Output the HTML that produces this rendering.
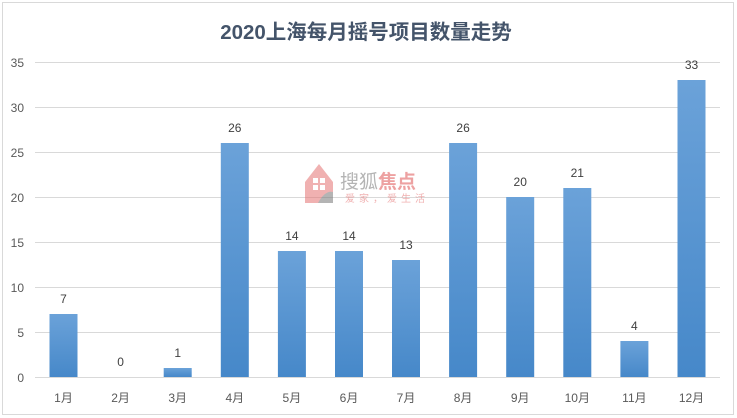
<!DOCTYPE html>
<html><head><meta charset="utf-8"><style>
html,body{margin:0;padding:0;background:#fff;}
svg{display:block;}
</style></head><body>
<svg width="737" height="418" viewBox="0 0 737 418" xmlns="http://www.w3.org/2000/svg">
<defs>
<linearGradient id="g" x1="0" y1="0" x2="0" y2="1">
<stop offset="0" stop-color="#6ba2d9"/>
<stop offset="1" stop-color="#4688c9"/>
</linearGradient>
</defs>
<rect x="0" y="0" width="737" height="418" fill="#fff"/>
<rect x="2.5" y="2.5" width="731" height="412" fill="#fff" stroke="#d9d9d9" stroke-width="1"/>
<g stroke="#d9d9d9" stroke-width="1">
<line x1="35" x2="720" y1="377.5" y2="377.5"/>
<line x1="35" x2="720" y1="332.5" y2="332.5"/>
<line x1="35" x2="720" y1="287.5" y2="287.5"/>
<line x1="35" x2="720" y1="242.5" y2="242.5"/>
<line x1="35" x2="720" y1="197.5" y2="197.5"/>
<line x1="35" x2="720" y1="152.5" y2="152.5"/>
<line x1="35" x2="720" y1="107.5" y2="107.5"/>
<line x1="35" x2="720" y1="62.5" y2="62.5"/>
</g>
<g font-family="Liberation Sans, sans-serif" font-size="12" fill="#595959" text-anchor="end">
<text x="24" y="382">0</text>
<text x="24" y="337">5</text>
<text x="24" y="292">10</text>
<text x="24" y="247">15</text>
<text x="24" y="202">20</text>
<text x="24" y="157">25</text>
<text x="24" y="112">30</text>
<text x="24" y="67">35</text>
</g>
<!-- watermark -->
<g opacity="0.55">
<path d="M305 182 L319 164 L333 182 L333 203 L305 203 Z" fill="#e57373"/>
<rect x="313" y="178" width="5" height="5" fill="#fff"/>
<rect x="320" y="178" width="5" height="5" fill="#fff"/>
<rect x="313" y="185" width="5" height="5" fill="#fff"/>
<rect x="320" y="185" width="5" height="5" fill="#fff"/>
<path d="M318 203 Q325 190 333 192 L333 203 Z" fill="#777"/>
<text x="340" y="188" font-family="Liberation Sans, 'Noto Sans CJK SC', sans-serif" font-size="19" fill="#777">搜狐<tspan fill="#e05555" font-weight="bold">焦点</tspan></text>
<text x="345" y="202" font-family="Liberation Sans, 'Noto Sans CJK SC', sans-serif" font-size="10" fill="#e57373" letter-spacing="4">爱家，爱生活</text>
</g>
<g fill="url(#g)">
<rect x="49.5" y="314" width="28" height="63"/>
<rect x="163.7" y="368" width="28" height="9"/>
<rect x="220.8" y="143" width="28" height="234"/>
<rect x="277.9" y="251" width="28" height="126"/>
<rect x="335" y="251" width="28" height="126"/>
<rect x="392" y="260" width="28" height="117"/>
<rect x="449.1" y="143" width="28" height="234"/>
<rect x="506.2" y="197" width="28" height="180"/>
<rect x="563.3" y="188" width="28" height="189"/>
<rect x="620.4" y="341" width="28" height="36"/>
<rect x="677.5" y="80" width="28" height="297"/>
</g>
<g font-family="Liberation Sans, sans-serif" font-size="12" fill="#404040" text-anchor="middle">
<text x="63.5" y="303">7</text>
<text x="120.6" y="366">0</text>
<text x="177.7" y="357">1</text>
<text x="234.8" y="132">26</text>
<text x="291.9" y="240">14</text>
<text x="349" y="240">14</text>
<text x="406" y="249">13</text>
<text x="463.1" y="132">26</text>
<text x="520.2" y="186">20</text>
<text x="577.3" y="177">21</text>
<text x="634.4" y="330">4</text>
<text x="691.5" y="69">33</text>
</g>
<g font-family="Liberation Sans, 'Noto Sans CJK SC', sans-serif" font-size="12" fill="#595959" text-anchor="middle">
<text x="63.5" y="402">1月</text>
<text x="120.6" y="402">2月</text>
<text x="177.7" y="402">3月</text>
<text x="234.8" y="402">4月</text>
<text x="291.9" y="402">5月</text>
<text x="349" y="402">6月</text>
<text x="406" y="402">7月</text>
<text x="463.1" y="402">8月</text>
<text x="520.2" y="402">9月</text>
<text x="577.3" y="402">10月</text>
<text x="634.4" y="402">11月</text>
<text x="691.5" y="402">12月</text>
</g>
<text x="366" y="39" text-anchor="middle" font-family="Liberation Sans, 'Noto Sans CJK SC', sans-serif" font-size="20.5" font-weight="bold" fill="#44546a">2020上海每月摇号项目数量走势</text>
</svg>
</body></html>
